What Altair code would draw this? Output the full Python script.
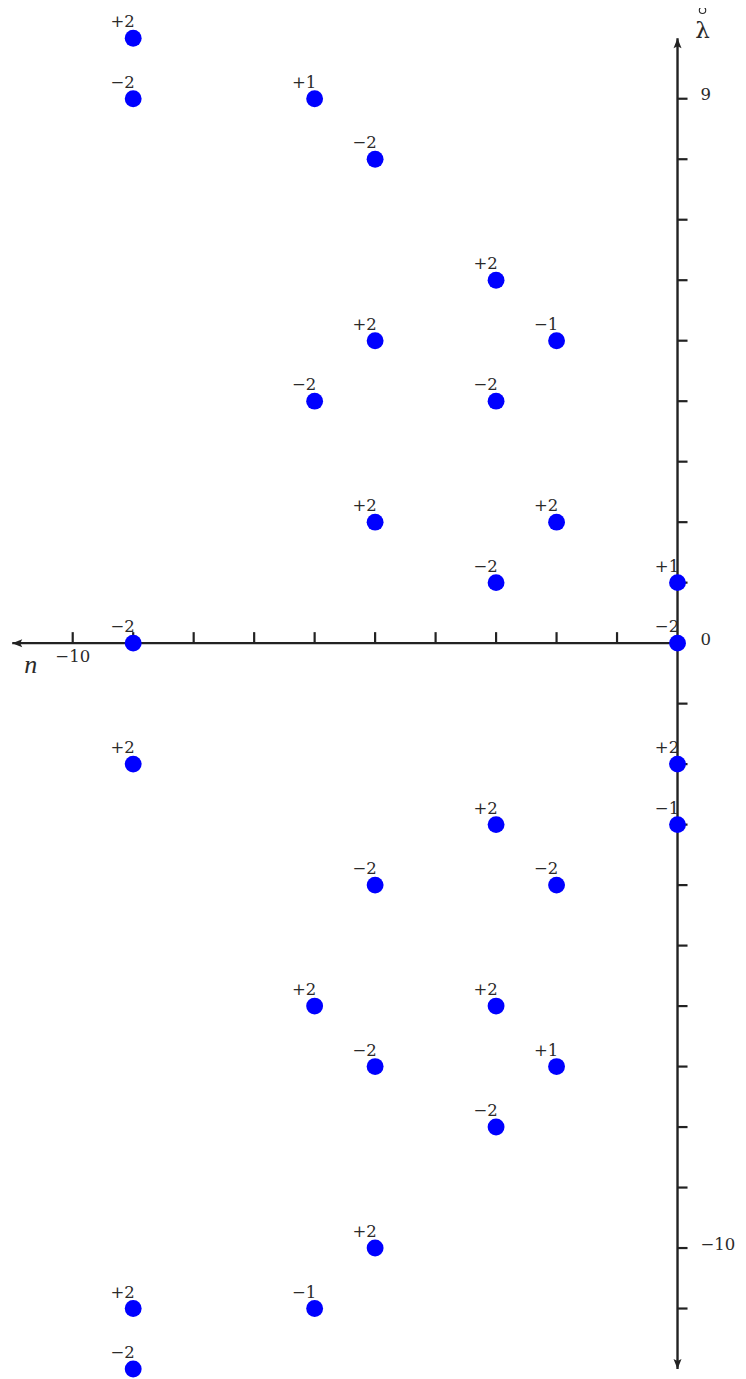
import altair as alt
import pandas as pd

# ---- data ----
n_vals = [-9, -9, -6, -5, -3, -5, -2, -6, -3, -5, -2, -3, 0, -9, 0,
          -9, 0, -3, 0, -5, -2, -6, -3, -5, -2, -3, -5, -9, -6, -9]
lam_vals = [10, 9, 9, 8, 6, 5, 5, 4, 4, 2, 2, 1, 1, 0, 0,
            -2, -2, -3, -3, -4, -4, -6, -6, -7, -7, -8, -10, -11, -11, -12]
mult_labels = ["+2", "−2", "+1", "−2", "+2", "+2", "−1", "−2", "−2", "+2",
               "+2", "−2", "+1", "−2", "−2", "+2", "+2", "+2", "−1", "−2",
               "−2", "+2", "+2", "−2", "+1", "−2", "+2", "+2", "−1", "−2"]

x_axis_span = [-11, 0]
y_axis_span = [-12, 10]
x_ticks = [-10, -9, -8, -7, -6, -5, -4, -3, -2, -1]
y_ticks = [9, 8, 7, 6, 5, 4, 3, 2, 1, -1, -2, -3, -4, -5, -6, -7, -8, -9, -10, -11]
x_tick_label_vals = [-10]
x_tick_label_text = ["−10"]
y_tick_label_vals = [9, 0, -10]
y_tick_label_text = ["9", "0", "−10"]

X_DOMAIN = [-11.07, 1.0]
Y_DOMAIN = [-12.165, 10.5]
AX = "#222222"
TXT = "#2a2a2a"
FONT = "DejaVu Serif"

xs = alt.Scale(domain=X_DOMAIN, zero=False, nice=False)
ys = alt.Scale(domain=Y_DOMAIN, zero=False, nice=False)

pts = pd.DataFrame({"n": n_vals, "lam": lam_vals, "lab": mult_labels})

xline = pd.DataFrame({"x1": [x_axis_span[0]], "x2": [x_axis_span[1]], "y": [0]})
yline = pd.DataFrame({"x": [0], "y1": [y_axis_span[0]], "y2": [y_axis_span[1]]})
xt = pd.DataFrame({"x": x_ticks, "y": [0] * len(x_ticks)})
yt = pd.DataFrame({"x": [0] * len(y_ticks), "y": y_ticks})
xtl = pd.DataFrame({"x": x_tick_label_vals, "y": [0] * len(x_tick_label_vals), "t": x_tick_label_text})
ytl = pd.DataFrame({"x": [0] * len(y_tick_label_vals), "y": y_tick_label_vals, "t": y_tick_label_text})
left_tip = pd.DataFrame({"x": [x_axis_span[0]], "y": [0]})
up_tip = pd.DataFrame({"x": [0], "y": [y_axis_span[1]]})
down_tip = pd.DataFrame({"x": [0], "y": [y_axis_span[0]]})

X = lambda f: alt.X(f, type="quantitative", scale=xs, axis=None)
Y = lambda f: alt.Y(f, type="quantitative", scale=ys, axis=None)

x_axis = alt.Chart(xline).mark_rule(color=AX, strokeWidth=2.4).encode(
    x=X("x1"), x2="x2", y=Y("y"))
y_axis = alt.Chart(yline).mark_rule(color=AX, strokeWidth=2.4).encode(
    x=X("x"), y=Y("y1"), y2="y2")

x_tick_marks = alt.Chart(xt).mark_point(
    shape="M0,0L0,-2", filled=False, size=121, strokeWidth=2.2, color=AX, opacity=1
).encode(x=X("x"), y=Y("y"))
y_tick_marks = alt.Chart(yt).mark_point(
    shape="M0,0L2,0", filled=False, size=100, strokeWidth=2.2, color=AX, opacity=1
).encode(x=X("x"), y=Y("y"))

arrow_kw = dict(filled=True, size=100, color=AX, opacity=1, strokeWidth=0)
arr_left = alt.Chart(left_tip).mark_point(shape="M0,0L2,0.8L1.6,0L2,-0.8Z", **arrow_kw).encode(
    x=X("x"), y=Y("y"))
arr_up = alt.Chart(up_tip).mark_point(shape="M0,0L0.8,2L0,1.6L-0.8,2Z", **arrow_kw).encode(
    x=X("x"), y=Y("y"))
arr_down = alt.Chart(down_tip).mark_point(shape="M0,0L0.8,-2L0,-1.6L-0.8,-2Z", **arrow_kw).encode(
    x=X("x"), y=Y("y"))

x_labels = alt.Chart(xtl).mark_text(
    font=FONT, fontSize=16.5, color=TXT, align="center", baseline="alphabetic", dy=18.5
).encode(x=X("x"), y=Y("y"), text="t:N")
y_labels = alt.Chart(ytl).mark_text(
    font=FONT, fontSize=16.5, color=TXT, align="left", baseline="alphabetic", dx=23, dy=1.5
).encode(x=X("x"), y=Y("y"), text="t:N")

n_title = alt.Chart(left_tip).mark_text(
    text="n", font="Liberation Serif", fontStyle="italic", fontSize=26, color=TXT,
    align="center", baseline="alphabetic", dx=18.5, dy=30
).encode(x=X("x"), y=Y("y"))
lam_title = alt.Chart(up_tip).mark_text(
    text="λ", font=FONT, fontSize=23, color=TXT,
    align="center", baseline="alphabetic", dx=25, dy=0
).encode(x=X("x"), y=Y("y"))
# ring accent above the lambda (pixel-sized path, scale 1 at size=4)
lam_ring = alt.Chart(up_tip).mark_point(
    shape="M28.2,-28A3.2,3.2 0 1,1 21.8,-28A3.2,3.2 0 1,1 28.2,-28Z", size=4,
    filled=False, strokeWidth=1.1, color=TXT, opacity=1
).encode(x=X("x"), y=Y("y"))

dots = alt.Chart(pts).mark_circle(size=285, color="#0000FF", opacity=1).encode(
    x=X("n"), y=Y("lam"))
labels = alt.Chart(pts).mark_text(
    font=FONT, fontSize=16.5, color=TXT, align="center", baseline="alphabetic", dx=-10.5, dy=-11
).encode(x=X("n"), y=Y("lam"), text="lab:N")

chart = alt.layer(
    x_axis, y_axis, x_tick_marks, y_tick_marks, arr_left, arr_up, arr_down,
    x_labels, y_labels, n_title, lam_title, lam_ring, dots, labels
).properties(
    width=730, height=1371,
    autosize=alt.AutoSizeParams(type="none"),
    padding=0,
).configure_view(stroke=None)

chart.save("out.html", embed_options={"renderer": "svg", "actions": False})
